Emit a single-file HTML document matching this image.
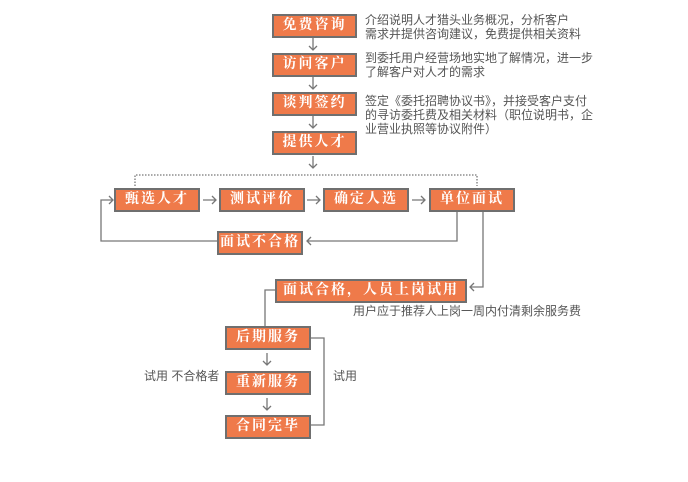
<!DOCTYPE html>
<html><head><meta charset="utf-8"><style>
body{margin:0;width:688px;height:482px;background:#fff;position:relative;overflow:hidden;font-family:"Liberation Sans","Noto Sans CJK SC",sans-serif}
.b{position:absolute;background:#ef7a4a;border:2px solid #6f6f6f;box-sizing:border-box;color:#fff;font-family:"Liberation Serif","Noto Serif CJK SC",serif;font-weight:bold;font-size:14px;text-align:center;line-height:20px;letter-spacing:2px;height:24px}
.t{position:absolute;color:#555;font-size:12px;line-height:14px;white-space:nowrap}
svg{position:absolute;left:0;top:0}
</style></head><body>
<svg width="688" height="482" fill="none" stroke="#777" stroke-width="1.3">
<g>
<path d="M313 38v12M313 77v12M313 116v12M313 156v12"/>
<path d="M309 46l4 4 4-4M309 85l4 4 4-4M309 124l4 4 4-4M309 164l4 4 4-4"/>
<path d="M135 186v-11h342v11" stroke-dasharray="1.5 1.5"/>
<path d="M203 200h13M212 196l4 4-4 4M307 200h13M316 196l4 4-4 4M412 200h13M421 196l4 4-4 4"/>
<path d="M457 212v29h-150M311 237l-4 4 4 4"/>
<path d="M217 241h-116v-41h12M109 196l4 4-4 4"/>
<path d="M483 212v75h-13M474 283l-4 4 4 4"/>
<path d="M275 290h-10v36"/>
<path d="M267 353v12M263 361l4 4 4-4M267 398v12M263 406l4 4 4-4"/>
<path d="M310 338h14v87h-14"/>
</g></svg>
<div class="b" style="left:272px;top:14px;width:85px">免费咨询</div>
<div class="b" style="left:272px;top:53px;width:85px">访问客户</div>
<div class="b" style="left:272px;top:92px;width:85px">谈判签约</div>
<div class="b" style="left:272px;top:131px;width:85px">提供人才</div>
<div class="t" style="left:365px;top:13px">介绍说明人才猎头业务概况，分析客户<br>需求并提供咨询建议，免费提供相关资料</div>
<div class="t" style="left:365px;top:51px">到委托用户经营场地实地了解情况，进一步<br>了解客户对人才的需求</div>
<div class="t" style="left:365px;top:94px">签定《委托招聘协议书》，并接受客户支付<br>的寻访委托费及相关材料（职位说明书，企<br>业营业执照等协议附件）</div>
<div class="b" style="left:114px;top:188px;width:86px">甄选人才</div>
<div class="b" style="left:219px;top:188px;width:86px">测试评价</div>
<div class="b" style="left:323px;top:188px;width:86px">确定人选</div>
<div class="b" style="left:429px;top:188px;width:86px">单位面试</div>
<div class="b" style="left:217px;top:231px;width:86px">面试不合格</div>
<div class="b" style="left:275px;top:279px;width:192px">面试合格，人员上岗试用</div>
<div class="t" style="left:353px;top:304px">用户应于推荐人上岗一周内付清剩余服务费</div>
<div class="b" style="left:225px;top:326px;width:86px">后期服务</div>
<div class="b" style="left:225px;top:371px;width:86px">重新服务</div>
<div class="b" style="left:225px;top:415px;width:86px">合同完毕</div>
<div class="t" style="left:144px;top:369px">试用 不合格者</div>
<div class="t" style="left:333px;top:369px">试用</div>
</body></html>
